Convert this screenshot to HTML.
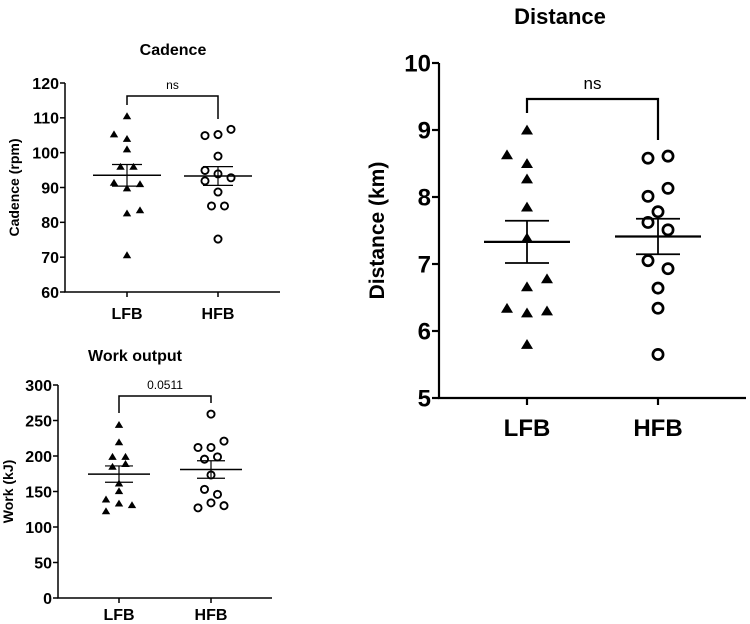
<!DOCTYPE html>
<html><head><meta charset="utf-8"><style>
body{margin:0;background:#fff;width:750px;height:624px;overflow:hidden}
svg{display:block;font-family:"Liberation Sans",Arial,sans-serif}
</style></head><body>
<svg id="chart" width="750" height="624"></svg>
<script>
const groups = ["LFB","HFB"];
const cadLFB = [110.5,105.3,104,101,96,96,91.4,89.8,91,82.6,83.5,70.6];
const cadLFBoff = [0,-1,0,0,-0.5,0.5,-1,0,1,0,1,0];
const cadHFB = [104.9,105.2,106.7,99,94.9,93.9,92.8,91.9,88.7,84.7,84.7,75.2];
const cadHFBoff = [-1,0,1,0,-1,0,1,-1,0,-0.5,0.5,0];
const cadMean = [93.5,93.3], cadSem = [3.1,2.7];
const cadTicks = [60,70,80,90,100,110,120];
const workLFB = [244,219.5,199,199,189,185,161.5,150.7,139,133.3,131,122.4];
const workLFBoff = [0,0,-0.5,0.5,0.5,-0.5,0,0,-1,0,1,-1];
const workHFB = [259,212,212,221,195.5,198.8,173.3,153,146,127,134,130];
const workHFBoff = [0,-1,0,1,-0.5,0.5,0,-0.5,0.5,-1,0,1];
const workMean = [174.5,181], workSem = [11.5,12.3];
const workTicks = [0,50,100,150,200,250,300];
const distLFB = [9.0,8.63,8.5,8.27,7.85,7.39,6.78,6.66,6.34,6.27,6.3,5.8];
const distLFBoff = [0,-1,0,0,0,0,1,0,-1,0,1,0];
const distHFB = [8.58,8.61,8.13,8.01,7.78,7.62,7.51,7.05,6.93,6.64,6.34,5.65];
const distHFBoff = [-0.5,0.5,0.5,-0.5,0,-0.5,0.5,-0.5,0.5,0,0,0];
const distMean = [7.33,7.41], distSem = [0.315,0.265];
const distTicks = [5,6,7,8,9,10];

const NS="http://www.w3.org/2000/svg", svg=document.getElementById('chart');
function mk(tag,attrs,parent,text){const e=document.createElementNS(NS,tag);for(const k in attrs)e.setAttribute(k,attrs[k]);if(text!==undefined)e.textContent=text;(parent||svg).appendChild(e);return e;}

function panel(o){
  const g=mk('g',{});
  
  
  const y=v=>o.y0+(v-o.min)/(o.max-o.min)*(o.y1-o.y0);
  const xs=[o.xL,o.xH];
  const t=mk('text',{x:o.titleX,y:o.titleY,'text-anchor':'middle','font-size':o.tfs,'font-weight':'bold'},g,o.title);
  
  
  const ax=mk('path',{d:`M${o.ax} ${y(o.max)}V${o.y0}H${o.axEnd}`,stroke:'#000','stroke-width':o.lw,fill:'none'},g);
  
  
  o.ticks.forEach(v=>{
    mk('line',{x1:o.ax-o.tl,x2:o.ax,y1:y(v),y2:y(v),stroke:'#000','stroke-width':o.lw},g);
    const tx=mk('text',{x:o.ax-o.tl-1,y:y(v)+o.fs*0.36,'text-anchor':'end','font-size':o.fs,'font-weight':'bold'},g,String(v));
    
    
  });
  groups.forEach((gname,i)=>{
    mk('line',{x1:xs[i],x2:xs[i],y1:o.y0,y2:o.y0+o.tl,stroke:'#000','stroke-width':o.lw},g);
    const tx=mk('text',{x:xs[i],y:o.xlY,'text-anchor':'middle','font-size':o.xfs,'font-weight':'bold'},g,gname);
    
    
  });
  const yl=mk('text',{x:0,y:0,'text-anchor':'middle','font-size':o.yfs,'font-weight':'bold',transform:`translate(${o.ylX},${(o.y0+y(o.max))/2}) rotate(-90)`},g,o.ylabel);
  
  
  const br=mk('path',{d:`M${xs[0]} ${o.brL}V${o.brY}H${xs[1]}V${o.brR}`,stroke:'#000','stroke-width':o.lw,fill:'none'},g);
  
  
  const bt=mk('text',{x:(xs[0]+xs[1])/2,y:o.brY-o.sfs*0.6,'text-anchor':'middle','font-size':o.sfs},g,o.sig);
  
  
  [[o.L,o.Loff],[o.H,o.Hoff]].forEach((arr,i)=>{
    arr[0].forEach((v,j)=>{
      const cx=xs[i]+arr[1][j]*o.dx, cy=y(v);
      let m;
      if(i===0){const s=o.ms;m=mk('path',{d:`M${cx} ${cy-s*0.9}L${cx+s} ${cy+s*0.75}L${cx-s} ${cy+s*0.75}Z`,fill:'#000'},g);}
      else{m=mk('circle',{cx:cx,cy:cy,r:o.ms*0.85,fill:'#fff',stroke:'#000','stroke-width':o.ms*0.45},g);}
      
    });
    const mx=xs[i], mv=o.mean[i], se=o.sem[i];
    const ml=mk('line',{x1:mx-o.mw,x2:mx+o.mw,y1:y(mv),y2:y(mv),stroke:'#000','stroke-width':o.lw},g);
    
    
    const eb=mk('path',{d:`M${mx-o.cw} ${y(mv+se)}H${mx+o.cw}M${mx} ${y(mv+se)}V${y(mv-se)}M${mx-o.cw} ${y(mv-se)}H${mx+o.cw}`,stroke:'#000','stroke-width':o.lw*0.8,fill:'none'},g);
    
    
  });
}
panel({name:'cadence',title:'Cadence',titleX:173,titleY:55,tfs:16,min:60,max:120,y0:292,y1:83,ax:65,axEnd:280,xL:127,xH:218,
  ticks:cadTicks,tl:5,fs:16,xfs:16,xlY:319,yfs:14,ylX:19,ylabel:'Cadence (rpm)',lw:1.5,brY:96,brL:105,brR:119,sig:'ns',sfs:12,
  L:cadLFB,Loff:cadLFBoff,H:cadHFB,Hoff:cadHFBoff,dx:13,ms:4.2,mean:cadMean,sem:cadSem,mw:34,cw:15});
panel({name:'work',title:'Work output',titleX:135,titleY:361,tfs:16,min:0,max:300,y0:598,y1:385,ax:58,axEnd:272,xL:119,xH:211,
  ticks:workTicks,tl:5,fs:16,xfs:16,xlY:620,yfs:14,ylX:13,ylabel:'Work (kJ)',lw:1.5,brY:396,brL:413,brR:403,sig:'0.0511',sfs:12,
  L:workLFB,Loff:workLFBoff,H:workHFB,Hoff:workHFBoff,dx:13,ms:4.2,mean:workMean,sem:workSem,mw:31,cw:14});
panel({name:'distance',title:'Distance',titleX:560,titleY:24,tfs:22,min:5,max:10,y0:398,y1:63,ax:439,axEnd:746,xL:527,xH:658,
  ticks:distTicks,tl:7,fs:24,xfs:24,xlY:436,yfs:21,ylX:384,ylabel:'Distance (km)',lw:2.2,brY:99,brL:113,brR:140,sig:'ns',sfs:17,
  L:distLFB,Loff:distLFBoff,H:distHFB,Hoff:distHFBoff,dx:20,ms:6,mean:distMean,sem:distSem,mw:43,cw:22});
</script>
</body></html>
